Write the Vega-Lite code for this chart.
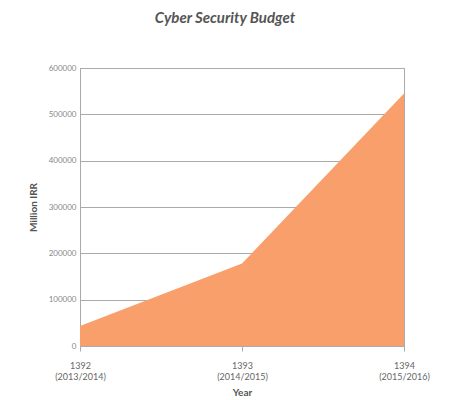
{
  "$schema": "https://vega.github.io/schema/vega-lite/v6.json",
  "width": 324,
  "height": 278,
  "autosize": {"type": "none"},
  "padding": {"left": 80, "top": 68, "right": 70, "bottom": 54},
  "background": "white",
  "title": {
    "text": "Cyber Security Budget",
    "font": "Lato",
    "fontSize": 15,
    "fontStyle": "italic",
    "fontWeight": "bold",
    "color": "#555555",
    "anchor": "middle",
    "dx": -17,
    "offset": 38
  },
  "config": {
    "view": {"stroke": "#aaaaaa", "strokeWidth": 1},
    "font": "Lato"
  },
  "data": {
    "values": [
      {"year": "1392 (2013/2014)", "budget": 43000},
      {"year": "1393 (2014/2015)", "budget": 178000},
      {"year": "1394 (2015/2016)", "budget": 545000}
    ]
  },
  "mark": {"type": "area", "color": "#F89F6C", "opacity": 1},
  "encoding": {
    "x": {
      "field": "year",
      "type": "ordinal",
      "title": "Year",
      "sort": null,
      "scale": {"type": "point", "padding": 0},
      "axis": {
        "labelAngle": 0,
        "labelExpr": "split(datum.label, ' ')",
        "labelFont": "Lato",
        "labelFontSize": 9,
        "labelColor": "#666666",
        "labelPadding": 10,
        "labelLineHeight": 11,
        "tickColor": "#aaaaaa",
        "tickSize": 5,
        "domainColor": "#aaaaaa",
        "titleFont": "Lato",
        "titleFontSize": 10,
        "titleFontWeight": "bold",
        "titleColor": "#555555",
        "titlePadding": 6
      }
    },
    "y": {
      "field": "budget",
      "type": "quantitative",
      "title": "Million IRR",
      "scale": {"domain": [0, 600000]},
      "axis": {
        "values": [0, 100000, 200000, 300000, 400000, 500000, 600000],
        "format": "d",
        "ticks": false,
        "labelFont": "Lato",
        "labelFontSize": 8,
        "labelColor": "#888888",
        "labelPadding": 4,
        "gridColor": "#aaaaaa",
        "domainColor": "#aaaaaa",
        "titleFont": "Lato",
        "titleFontSize": 10,
        "titleFontWeight": "bold",
        "titleColor": "#555555",
        "titlePadding": 10
      }
    }
  }
}
